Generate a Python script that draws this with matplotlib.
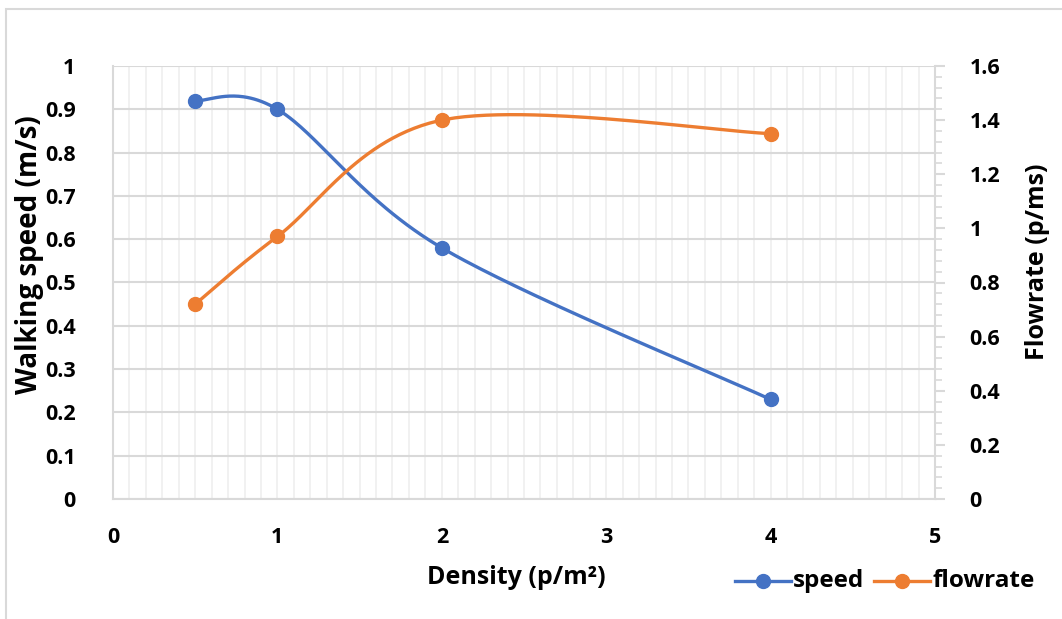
import numpy as np
import matplotlib.pyplot as plt
from matplotlib.patches import Rectangle
from matplotlib.ticker import MultipleLocator, FuncFormatter

plt.rcParams['font.family'] = ['Open Sans', 'DejaVu Sans']
plt.rcParams['font.weight'] = 'bold'

density = [0.5, 1, 2, 4]
speed = [0.92, 0.90, 0.58, 0.23]
flowrate = [0.72, 0.97, 1.40, 1.35]

BLUE = "#4472C4"
ORANGE = "#ED7D31"
GRID = "#D9D9D9"
MINOR_GRID = "#EFEFEF"
FS = 15.5


def smooth(xs, ys, xspan, yspan, n=60):
    """Catmull-Rom style bezier through the points, done in normalised units"""
    p = np.column_stack([np.array(xs) / xspan, np.array(ys) / yspan])
    p = np.vstack([p[0], p, p[-1]])
    out = []
    for i in range(1, len(p) - 2):
        p0, p1, p2, p3 = p[i - 1], p[i], p[i + 1], p[i + 2]
        c1 = p1 + (p2 - p0) / 6
        c2 = p2 - (p3 - p1) / 6
        t = np.linspace(0, 1, n)[:, None]
        seg = ((1 - t) ** 3 * p1 + 3 * (1 - t) ** 2 * t * c1
               + 3 * (1 - t) * t ** 2 * c2 + t ** 3 * p2)
        out.append(seg)
    out = np.vstack(out)
    return out[:, 0] * xspan, out[:, 1] * yspan


fig = plt.figure(figsize=(10.62, 6.19), dpi=100)
fig.patches.append(Rectangle((6 / 1062, -0.1), 1.2, 0.1 + 610 / 619,
                             transform=fig.transFigure, fill=False,
                             edgecolor=GRID, lw=1.5))

ax = fig.add_axes([113 / 1062, 120 / 619, 822 / 1062, 433 / 619])
ax2 = ax.twinx()

ax.set_xlim(0, 5)
ax.set_ylim(0, 1)
ax2.set_ylim(0, 1.6)

ax.xaxis.set_major_locator(MultipleLocator(1))
ax.xaxis.set_minor_locator(MultipleLocator(0.1))
ax.yaxis.set_major_locator(MultipleLocator(0.1))
ax2.yaxis.set_major_locator(MultipleLocator(0.2))
ax2.yaxis.set_minor_locator(MultipleLocator(0.04))

num = FuncFormatter(lambda v, _: f"{round(v, 2):g}")
ax.xaxis.set_major_formatter(num)
ax.yaxis.set_major_formatter(num)
ax2.yaxis.set_major_formatter(num)

ax.grid(axis='y', which='major', color=GRID, lw=1.5)
ax.grid(axis='x', which='both', color=MINOR_GRID, lw=1.2)
ax.set_axisbelow(True)

for a in (ax, ax2):
    for s in a.spines.values():
        s.set_visible(False)
for name, a in [('left', ax), ('bottom', ax), ('right', ax2)]:
    a.spines[name].set_visible(True)
    a.spines[name].set_color(GRID)
    a.spines[name].set_linewidth(1.5)

ax.tick_params(axis='both', which='both', length=0, labelsize=FS)
ax.tick_params(axis='y', pad=27)
ax.tick_params(axis='x', pad=20)
ax2.tick_params(axis='y', which='major', length=7, width=1.5, color=GRID,
                labelsize=FS, pad=18)
ax2.tick_params(axis='y', which='minor', length=5, width=1.2, color=GRID)

sx, sy = smooth(density, speed, 5, 1)
ax.plot(sx, sy, color=BLUE, lw=2.4, zorder=3)
ax.plot(density, speed, 'o', color=BLUE, ms=10, zorder=4)

fx, fy = smooth(density, flowrate, 5, 1.6)
ax2.plot(fx, fy, color=ORANGE, lw=2.4, zorder=3)
ax2.plot(density, flowrate, 'o', color=ORANGE, ms=10, zorder=4)

fig.text(30 / 1062, 1 - 255 / 619, "Walking speed (m/s)", rotation=90,
         ha='center', va='center', fontsize=20, fontweight='bold')
fig.text(1037 / 1062, 1 - 262 / 619, "Flowrate (p/ms)", rotation=90,
         ha='center', va='center', fontsize=18, fontweight='bold')
fig.text(516 / 1062, 1 - 578 / 619, "Density (p/m²)",
         ha='center', va='center', fontsize=18, fontweight='bold')

# legend drawn by hand as line+marker+label pairs
yy = 1 - 581 / 619
for x0, x1, col, label in [(735, 791, BLUE, "speed"),
                           (874, 930, ORANGE, "flowrate")]:
    fig.add_artist(plt.Line2D([x0 / 1062, x1 / 1062], [yy, yy],
                              color=col, lw=2.4, transform=fig.transFigure))
    fig.add_artist(plt.Line2D([(x0 + x1) / 2 / 1062], [yy], marker='o',
                              ms=10, color=col, transform=fig.transFigure))
    fig.text((x1 + 2) / 1062, yy, label, ha='left', va='center',
             fontsize=17.5, fontweight='bold')

fig.savefig("out.png", dpi=100)
